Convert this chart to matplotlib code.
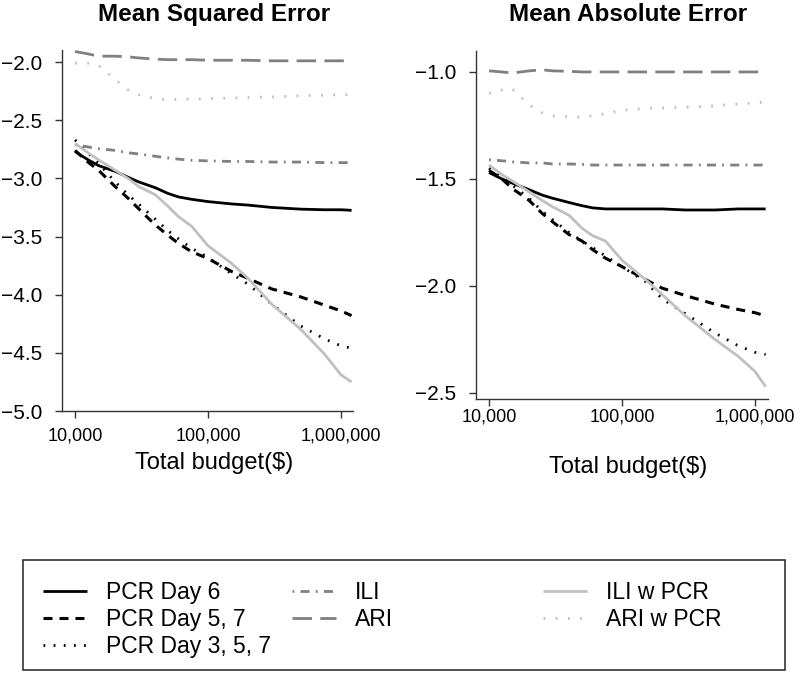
import matplotlib
matplotlib.use("Agg")
import matplotlib.pyplot as plt
import matplotlib.ticker as ticker
from matplotlib.lines import Line2D
from matplotlib.patches import Rectangle

plt.rcParams["font.family"] = ["Liberation Sans", "DejaVu Sans"]
plt.rcParams["lines.scale_dashes"] = False

# --- data ---
BUDGET = [10000, 12500, 15000, 20000, 25000, 30000, 40000, 50000, 60000, 75000,
          100000, 150000, 200000, 300000, 500000, 750000, 1000000, 1200000]

MSE_PCR6 = [-2.77, -2.84, -2.89, -2.94, -2.99, -3.03, -3.08, -3.13, -3.16, -3.18,
            -3.20, -3.22, -3.23, -3.25, -3.265, -3.27, -3.27, -3.275]
MSE_PCR57 = [-2.76, -2.86, -2.93, -3.07, -3.17, -3.26, -3.40, -3.49, -3.56, -3.63,
             -3.69, -3.80, -3.86, -3.95, -4.02, -4.09, -4.14, -4.18]
MSE_PCR357 = [-2.67, -2.78, -2.87, -3.03, -3.14, -3.22, -3.35, -3.45, -3.52, -3.60,
              -3.68, -3.82, -3.91, -4.08, -4.27, -4.38, -4.44, -4.46]
MSE_ILI = [-2.71, -2.73, -2.745, -2.76, -2.78, -2.79, -2.81, -2.825, -2.835, -2.845,
           -2.85, -2.855, -2.855, -2.86, -2.86, -2.865, -2.865, -2.865]
MSE_ARI = [-1.91, -1.93, -1.95, -1.95, -1.955, -1.965, -1.975, -1.98, -1.98, -1.98,
           -1.985, -1.985, -1.985, -1.99, -1.99, -1.99, -1.99, -1.99]
MSE_ILI_PCR = [-2.70, -2.78, -2.84, -2.93, -3.00, -3.07, -3.14, -3.24, -3.33, -3.41,
               -3.58, -3.73, -3.86, -4.08, -4.30, -4.51, -4.69, -4.75]
MSE_ARI_PCR = [-2.01, -2.01, -2.03, -2.15, -2.24, -2.28, -2.315, -2.325, -2.32, -2.32,
               -2.315, -2.31, -2.305, -2.30, -2.29, -2.285, -2.28, -2.28]

MAE_PCR6 = [-1.47, -1.50, -1.52, -1.55, -1.575, -1.59, -1.61, -1.625, -1.635, -1.64,
            -1.64, -1.64, -1.64, -1.645, -1.645, -1.64, -1.64, -1.64]
MAE_PCR57 = [-1.46, -1.50, -1.545, -1.60, -1.66, -1.70, -1.76, -1.79, -1.83, -1.87,
             -1.91, -1.97, -2.01, -2.045, -2.085, -2.11, -2.125, -2.14]
MAE_PCR357 = [-1.45, -1.49, -1.53, -1.59, -1.65, -1.69, -1.75, -1.79, -1.82, -1.86,
              -1.91, -1.98, -2.06, -2.13, -2.22, -2.28, -2.31, -2.32]
MAE_ILI = [-1.41, -1.415, -1.42, -1.425, -1.425, -1.43, -1.43, -1.432, -1.435, -1.435,
           -1.435, -1.435, -1.435, -1.435, -1.435, -1.435, -1.435, -1.435]
MAE_ARI = [-0.995, -1.0, -1.005, -0.995, -0.99, -0.995, -0.997, -1.0, -1.0, -1.0,
           -1.0, -1.0, -1.0, -1.0, -1.0, -1.0, -1.0, -1.0]
MAE_ILI_PCR = [-1.435, -1.48, -1.51, -1.56, -1.60, -1.63, -1.67, -1.73, -1.765, -1.79,
               -1.88, -1.97, -2.04, -2.14, -2.25, -2.33, -2.40, -2.47]
MAE_ARI_PCR = [-1.10, -1.085, -1.08, -1.155, -1.19, -1.205, -1.21, -1.21, -1.205, -1.195,
               -1.18, -1.17, -1.168, -1.165, -1.158, -1.15, -1.145, -1.14]

LABELS = ["PCR Day 6", "PCR Day 5, 7", "PCR Day 3, 5, 7", "ILI", "ARI", "ILI w PCR", "ARI w PCR"]
X_TICKS = [10000, 100000, 1000000]

# line styles per series: (color, dashes, width)
STYLES = [
    ("black", None, 2.0),
    ("black", (6.5, 5), 2.2),
    ("black", (1.3, 6), 2.0),
    ("#808080", (1.3, 4.5, 6.5, 4.5), 2.0),
    ("#808080", (14, 6), 2.0),
    ("#c0c0c0", None, 2.0),
    ("#c0c0c0", (1.3, 7.5), 2.0),
]


def draw(ax, series):
    for vals, (color, dashes, lw) in zip(series, STYLES):
        line, = ax.plot(BUDGET, vals, color=color, lw=lw, solid_capstyle="butt",
                        dash_capstyle="butt")
        if dashes:
            line.set_dashes(dashes)
    ax.set_xscale("log")
    ax.set_xticks(X_TICKS)
    ax.xaxis.set_minor_locator(ticker.NullLocator())
    ax.xaxis.set_major_formatter(ticker.FuncFormatter(lambda x, _: f"{int(x):,}"))
    ax.spines["top"].set_visible(False)
    ax.spines["right"].set_visible(False)
    for s in ("left", "bottom"):
        ax.spines[s].set_color("#333333")
        ax.spines[s].set_linewidth(1.0)
    ax.tick_params(axis="y", labelsize=15, length=5, width=1.0, color="#333333", pad=9)
    ax.tick_params(axis="x", labelsize=13, length=5, width=1.0, color="#333333")


fig = plt.figure(figsize=(8, 6.75), dpi=100)

ax1 = fig.add_axes([0.0775, 0.3911, 0.36375, 0.5348])
draw(ax1, [MSE_PCR6, MSE_PCR57, MSE_PCR357, MSE_ILI, MSE_ARI, MSE_ILI_PCR, MSE_ARI_PCR])
ax1.set_xlim(7980, 1.23e6)
ax1.set_ylim(-5.0, -1.897)
ax1.set_yticks([-2.0, -2.5, -3.0, -3.5, -4.0, -4.5, -5.0])
ax1.tick_params(axis="x", pad=7)

ax2 = fig.add_axes([0.595, 0.4089, 0.365, 0.5156])
draw(ax2, [MAE_PCR6, MAE_PCR57, MAE_PCR357, MAE_ILI, MAE_ARI, MAE_ILI_PCR, MAE_ARI_PCR])
ax2.set_xlim(7980, 1.25e6)
ax2.set_ylim(-2.528, -0.902)
ax2.set_yticks([-1.0, -1.5, -2.0, -2.5])
ax2.tick_params(axis="x", pad=2)

fig.text(0.2675, 0.979, "Mean Squared Error", ha="center", va="center",
         fontsize=17.5, fontweight="bold")
fig.text(0.785, 0.979, "Mean Absolute Error", ha="center", va="center",
         fontsize=17.5, fontweight="bold")
fig.text(0.2675, 1 - 463 / 675, "Total budget($)", ha="center", va="center", fontsize=17)
fig.text(0.785, 1 - 467 / 675, "Total budget($)", ha="center", va="center", fontsize=17)

# legend: a box with three columns of entries
fig.add_artist(Rectangle((0.02875, 0.0074), 0.9525, 0.163, transform=fig.transFigure,
                         fill=False, edgecolor="#333333", lw=1.2))

handles = []
for color, dashes, lw in STYLES:
    h = Line2D([], [], color=color, lw=lw, solid_capstyle="butt", dash_capstyle="butt")
    if dashes:
        h.set_dashes(dashes)
    handles.append(h)

cols = [([0, 1, 2], 0.05375), ([3, 4], 0.365), ([5, 6], 0.679)]
for idx, x0 in cols:
    fig.legend([handles[i] for i in idx], [LABELS[i] for i in idx],
               loc="upper left", bbox_to_anchor=(x0, 1 - 581 / 675),
               frameon=False, fontsize=16.5, handlelength=1.9, handletextpad=0.85,
               labelspacing=0.18, borderpad=0, borderaxespad=0)

fig.savefig("out.png", dpi=100)
